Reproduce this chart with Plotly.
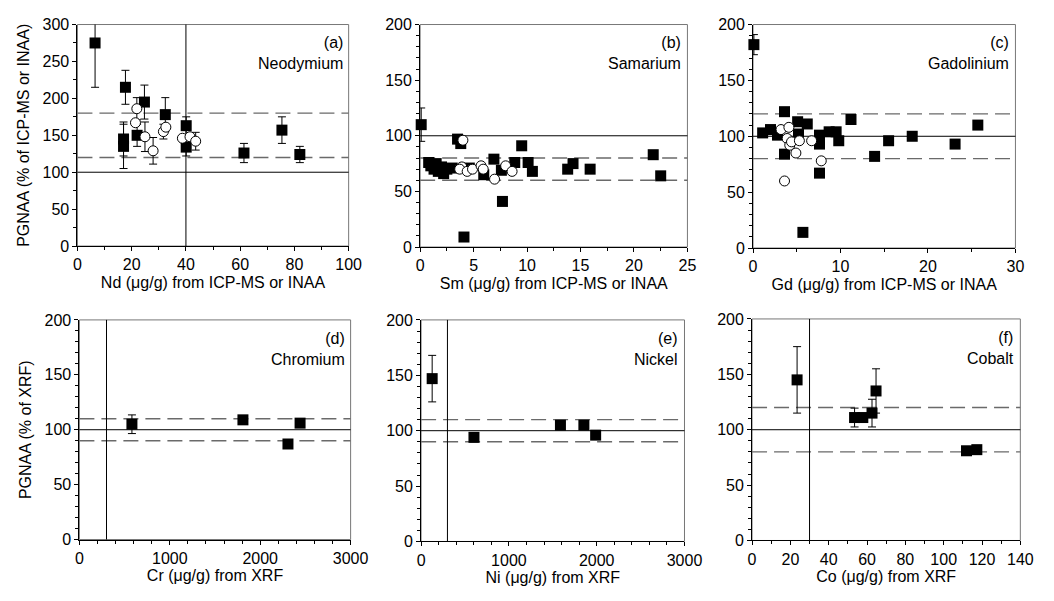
import plotly.graph_objects as go

# ---------------- data ----------------
# (a) Neodymium
nd_sq_x = [6.5, 17.7, 17.0, 17.0, 22.0, 24.7, 32.4, 40.1, 40.1, 61.4, 75.4, 82.0]
nd_sq_y = [275, 215, 145, 135, 150, 195, 178, 163, 134, 126, 157, 124]
nd_sq_e = [60, 23, 23, 30, 15, 23, 23, 12, 12, 13, 18, 11]
nd_ci_x = [21.9, 21.4, 24.9, 27.9, 31.7, 32.6, 38.7, 41.5, 43.6]
nd_ci_y = [186, 167, 148, 129, 155, 161, 146, 148, 142]
nd_ci_e = [15, 0, 20, 18, 10, 0, 0, 0, 12]

# (b) Samarium
sm_sq_x = [0.1, 0.8, 1.0, 1.3, 1.5, 1.7, 2.0, 2.2, 2.5, 3.0, 3.5, 3.8, 4.1, 4.6, 5.95,
           6.9, 7.6, 7.7, 8.85, 9.5, 10.1, 10.5, 13.8, 14.3, 15.9, 21.8, 22.5]
sm_sq_y = [110, 76, 73, 70, 75, 68, 72, 66, 70, 71, 97, 93, 9, 71, 65,
           79, 69, 41, 76, 91, 76, 68, 70, 75, 70, 83, 64]
sm_sq_e = [15] + [0] * 26
sm_ci_x = [4.0, 3.9, 3.7, 4.4, 4.9, 5.7, 5.9, 6.96, 8.0, 8.6]
sm_ci_y = [96, 72, 70, 68, 70, 73, 70, 61, 73, 68]

# (c) Gadolinium
gd_sq_x = [0.1, 1.1, 2.0, 2.8, 3.6, 3.6, 5.1, 5.2, 6.2, 5.7, 7.6, 7.6, 7.6, 8.7, 9.5, 9.8,
           11.2, 13.9, 15.5, 18.2, 23.1, 25.7]
gd_sq_y = [182, 103, 106, 101, 122, 84, 113, 102, 111, 14, 101, 93, 67, 104, 104, 96,
           115, 82, 96, 100, 93, 110]
gd_sq_e = [9] + [0] * 21
gd_ci_x = [3.2, 4.1, 3.9, 4.2, 4.4, 5.3, 4.9, 6.7, 7.8, 3.6]
gd_ci_y = [106, 108, 98, 92, 95, 96, 85, 96, 78, 60]

# (d) Chromium
cr_x = [581, 1809, 2307, 2441]
cr_y = [105, 109, 87, 106]
cr_e = [8.5, 2, 2, 2]

# (e) Nickel
ni_x = [126, 602, 1587, 1854, 1988]
ni_y = [147, 94, 105, 105, 96]
ni_e = [21, 4, 2, 2, 2]

# (f) Cobalt
co_x = [23.5, 53.5, 57.8, 62.6, 64.7, 111.9, 117.3]
co_y = [145, 111, 111, 115, 135, 81, 82]
co_e = [30, 8.5, 3, 12.5, 20, 2, 2]

# reference lines
a_dash = [180, 120]
b_dash = [80, 60]
c_dash = [120, 80]
d_dash = [110, 90]
e_dash = [110, 90]
f_dash = [120, 80]
solid_y = 100
a_vline = 40
d_vline = 300
e_vline = 300
f_vline = 30

x_titles = ["Nd (\u03bcg/g) from ICP-MS or INAA", "Sm (\u03bcg/g) from ICP-MS or INAA",
            "Gd (\u03bcg/g) from ICP-MS or INAA", "Cr (\u03bcg/g) from XRF",
            "Ni (\u03bcg/g) from XRF", "Co (\u03bcg/g) from XRF"]
tags = ["(a)", "(b)", "(c)", "(d)", "(e)", "(f)"]
names = ["Neodymium", "Samarium", "Gadolinium", "Chromium", "Nickel", "Cobalt"]

# ---------------- layout ----------------
W, H = 1054, 601
FONT = "Liberation Sans, Arial, sans-serif"

def dx(a, b):
    return [a / W, b / W]

def dy(top, bottom):
    return [1 - bottom / H, 1 - top / H]

panels = [
    dict(xd=dx(75, 352), yd=dy(17, 245), xr=[0, 100], xt=20, xm=10, yr=[0, 300], yt=50, ym=25,
         dash=a_dash, vline=a_vline, ytitle="PGNAA (% of ICP-MS or INAA)"),
    dict(xd=dx(425, 698), yd=dy(17, 246), xr=[0, 25], xt=5, xm=2.5, yr=[0, 200], yt=50, ym=10,
         dash=b_dash, vline=None, ytitle=None),
    dict(xd=dx(765, 1033), yd=dy(17, 247), xr=[0, 30], xt=10, xm=5, yr=[0, 200], yt=50, ym=10,
         dash=c_dash, vline=None, ytitle=None),
    dict(xd=dx(77, 354), yd=dy(321, 547), xr=[0, 3000], xt=1000, xm=200, yr=[0, 200], yt=50, ym=10,
         dash=d_dash, vline=d_vline, ytitle="PGNAA (% of XRF)"),
    dict(xd=dx(426, 695), yd=dy(321, 549), xr=[0, 3000], xt=1000, xm=200, yr=[0, 200], yt=50, ym=10,
         dash=e_dash, vline=e_vline, ytitle=None),
    dict(xd=dx(764, 1038), yd=dy(320, 548), xr=[0, 140], xt=20, xm=10, yr=[0, 200], yt=50, ym=10,
         dash=f_dash, vline=f_vline, ytitle=None),
]

fig = go.Figure()

sq_marker = dict(symbol="square", size=11, color="black", line=dict(width=0))
ci_marker = dict(symbol="circle", size=10, color="white", line=dict(width=1, color="black"))

def errs(e):
    return dict(type="data", array=e, visible=True, color="black", thickness=1, width=4)

series = [
    [(nd_sq_x, nd_sq_y, nd_sq_e, sq_marker), (nd_ci_x, nd_ci_y, nd_ci_e, ci_marker)],
    [(sm_sq_x, sm_sq_y, sm_sq_e, sq_marker), (sm_ci_x, sm_ci_y, None, ci_marker)],
    [(gd_sq_x, gd_sq_y, gd_sq_e, sq_marker), (gd_ci_x, gd_ci_y, None, ci_marker)],
    [(cr_x, cr_y, cr_e, sq_marker)],
    [(ni_x, ni_y, ni_e, sq_marker)],
    [(co_x, co_y, co_e, sq_marker)],
]

TICK_SIZE = 16
TITLE_SIZE = 16
ANN_SIZE = 16

layout = {}
shapes = []
annotations = []
for i, p in enumerate(panels):
    n = "" if i == 0 else str(i + 1)
    xa, ya = "x" + n, "y" + n
    tickfont = dict(family=FONT, size=TICK_SIZE, color="black")
    layout["xaxis" + n] = dict(
        domain=p["xd"], anchor=ya, range=p["xr"], dtick=p["xt"], tick0=0,
        showline=True, linecolor="black", linewidth=1, ticks="outside", ticklen=4,
        tickcolor="black", showgrid=False, zeroline=False, tickfont=tickfont,
        minor=dict(dtick=p["xm"], tick0=0, ticks="outside", ticklen=3, tickcolor="black", showgrid=False),
        title=dict(text=x_titles[i], font=dict(family=FONT, size=TITLE_SIZE, color="black"), standoff=4),
        fixedrange=True,
    )
    yt = dict(
        domain=p["yd"], anchor=xa, range=p["yr"], dtick=p["yt"], tick0=0,
        showline=True, linecolor="black", linewidth=1, ticks="outside", ticklen=4,
        tickcolor="black", showgrid=False, zeroline=False, tickfont=tickfont,
        minor=dict(dtick=p["ym"], tick0=0, ticks="outside", ticklen=3, tickcolor="black", showgrid=False),
        fixedrange=True,
    )
    if p["ytitle"]:
        yt["title"] = dict(text=p["ytitle"], font=dict(family=FONT, size=TITLE_SIZE, color="black"), standoff=8)
    layout["yaxis" + n] = yt

    # frame
    shapes.append(dict(type="rect", xref=xa + " domain", yref=ya + " domain", x0=0, x1=1, y0=0, y1=1,
                       line=dict(color="#777777", width=1), layer="below"))
    # solid 100 line
    shapes.append(dict(type="line", xref=xa + " domain", yref=ya, x0=0, x1=1, y0=solid_y, y1=solid_y,
                       line=dict(color="black", width=1), layer="below"))
    for v in p["dash"]:
        shapes.append(dict(type="line", xref=xa + " domain", yref=ya, x0=0, x1=1, y0=v, y1=v,
                           line=dict(color="#6a6a6a", width=1.4, dash="15px,7px"), layer="below"))
    if p["vline"] is not None:
        shapes.append(dict(type="line", xref=xa, yref=ya + " domain", x0=p["vline"], x1=p["vline"], y0=0, y1=1,
                           line=dict(color="black", width=1), layer="below"))

    ph = (p["yd"][1] - p["yd"][0]) * H
    annotations.append(dict(text=tags[i] + "<br>" + names[i], xref=xa + " domain", yref=ya + " domain",
                            x=1, y=1 - 8 / ph, xanchor="right", yanchor="top", align="right",
                            xshift=-4, showarrow=False,
                            font=dict(family=FONT, size=ANN_SIZE, color="black")))

    for (sx, sy, se, mk) in series[i]:
        tr = go.Scatter(x=sx, y=sy, mode="markers", marker=mk, xaxis=xa, yaxis=ya,
                        showlegend=False, cliponaxis=False, hoverinfo="x+y")
        if se is not None:
            tr.error_y = errs(se)
        fig.add_trace(tr)

fig.update_layout(
    width=W, height=H, margin=dict(l=0, r=0, t=0, b=0),
    paper_bgcolor="white", plot_bgcolor="white",
    font=dict(family=FONT, size=TICK_SIZE, color="black"),
    shapes=shapes, annotations=annotations, showlegend=False,
    **layout,
)

fig.write_html("out.html")
